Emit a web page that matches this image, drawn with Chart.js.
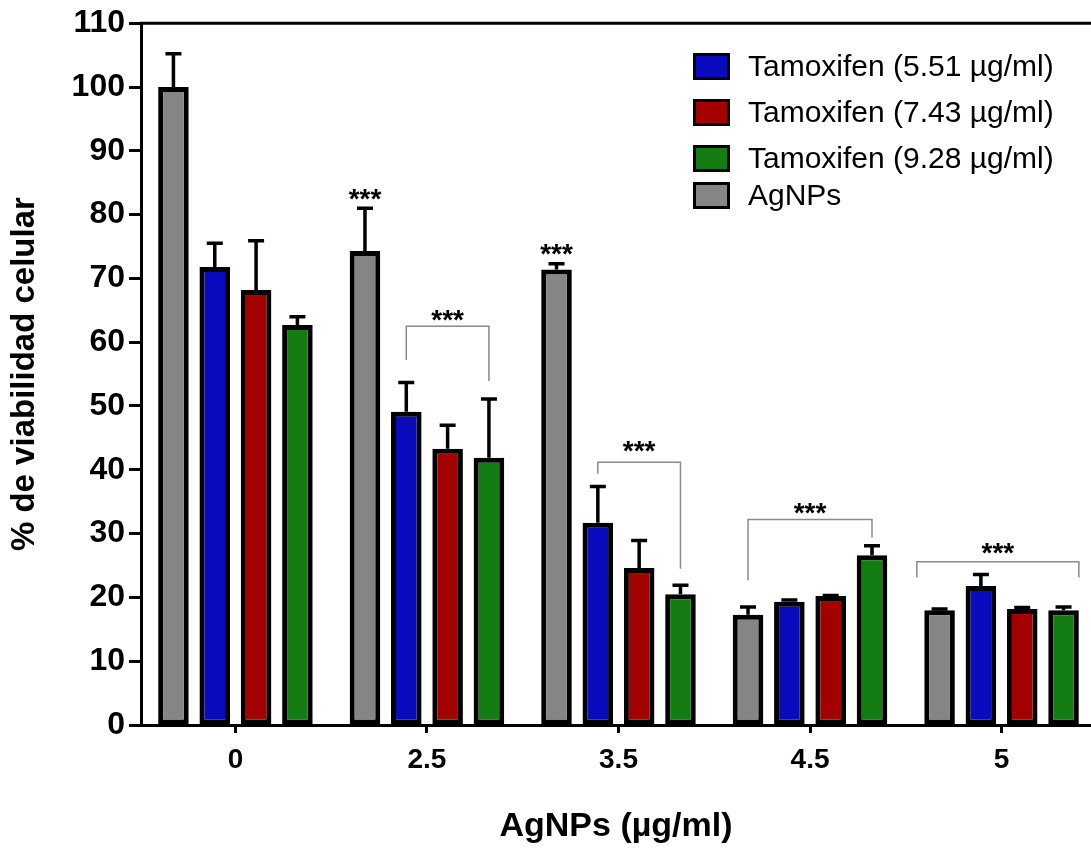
<!DOCTYPE html>
<html>
<head>
<meta charset="utf-8">
<script src="https://cdn.jsdelivr.net/npm/chart.js@4.4.1/dist/chart.umd.min.js"></script>
<style>
  body { margin:0; background:#fff; }
  #wrap { position:relative; width:1091px; height:848px; overflow:hidden; }
  #legend { position:absolute; left:693px; top:53px; font-family:"Liberation Sans", Arial, sans-serif; font-size:30px; color:#000; }
  .item { position:absolute; left:0; white-space:nowrap; }
  .box { position:absolute; left:0; top:0; width:37px; height:27px; box-sizing:border-box; border:3px solid #000; }
  .lbl { position:absolute; left:55px; top:-4px; line-height:34px; }
</style>
</head>
<body>
<div id="wrap">
  <canvas id="viab" width="1091" height="848"></canvas>
  <div id="legend"></div>
</div>
<script>
// concentraciones AgNPs (µg/ml)
const doses = ['0', '2.5', '3.5', '4.5', '5'];

// % viabilidad y error (barra superior) por serie
const agnps     = [100, 74.3, 71.4, 17.3, 18.0];
const agnpsErr  = [5.2, 6.7, 0.9, 1.2, 0.2];
const tam551    = [71.8, 49.1, 31.7, 19.3, 21.8];
const tam551Err = [3.7, 4.6, 5.7, 0.3, 1.8];
const tam743    = [68.2, 43.3, 24.6, 20.2, 18.2];
const tam743Err = [7.7, 3.7, 4.3, 0.1, 0.2];
const tam928    = [62.7, 41.9, 20.5, 26.6, 18.0];
const tam928Err = [1.3, 9.2, 1.4, 1.5, 0.5];

const seriesNames = ['AgNPs', 'Tamoxifen (5.51 µg/ml)', 'Tamoxifen (7.43 µg/ml)', 'Tamoxifen (9.28 µg/ml)'];
const seriesColors = ['#858585', '#0a0abf', '#a30000', '#137d13'];
const legendOrder = [1, 2, 3, 0];
const legendTops = [0, 46, 92, 129];

// significancia: grupo, desde/hasta (posicion de barra en el grupo), nivel, patas
const brackets = [
  { g: 1, from: 1, to: 3, level: 62.5, leftEnd: 57.2, rightEnd: 53.9, stars: 64.6 },
  { g: 2, from: 1, to: 3, level: 41.2, leftEnd: 39.4, rightEnd: 24.5, stars: 44.0 },
  { g: 3, from: 0, to: 3, level: 32.2, leftEnd: 22.7, rightEnd: 29.4, stars: 34.4 },
  { g: 4, from: -0.55, to: 3.37, level: 25.6, leftEnd: 23.1, rightEnd: 23.1, stars: 28.0 }
];
const singleStars = [ { g: 1, pos: 0, y: 83.6 }, { g: 2, pos: 0, y: 75.0 } ];

const values = [agnps, tam551, tam743, tam928];
const errors = [agnpsErr, tam551Err, tam743Err, tam928Err];

// ---------- leyenda ----------
const legend = document.getElementById('legend');
legendOrder.forEach((s, k) => {
  legend.innerHTML += `<div class="item" style="top:${legendTops[k]}px">
      <div class="box" style="background:${seriesColors[s]}"></div>
      <div class="lbl">${seriesNames[s]}</div></div>`;
});

function barX(chart, g, pos) {
  const x0 = chart.getDatasetMeta(0).data[g].x;
  const x1 = chart.getDatasetMeta(1).data[g].x;
  return x0 + pos * (x1 - x0);
}

const extras = {
  id: 'extras',
  afterDatasetsDraw(chart) {
    const ctx = chart.ctx, y = chart.scales.y, area = chart.chartArea;
    ctx.save();
    ctx.strokeStyle = '#000';
    ctx.lineWidth = 3;
    ctx.beginPath();
    ctx.moveTo(area.left - 1, area.top);
    ctx.lineTo(area.right, area.top);
    ctx.stroke();

    // barras de error
    ctx.lineWidth = 3.5;
    chart.data.datasets.forEach((ds, i) => {
      chart.getDatasetMeta(i).data.forEach((bar, g) => {
        const top = y.getPixelForValue(values[i][g] + errors[i][g]);
        ctx.beginPath();
        ctx.moveTo(bar.x, bar.y);
        ctx.lineTo(bar.x, top);
        ctx.moveTo(bar.x - 8, top);
        ctx.lineTo(bar.x + 8, top);
        ctx.stroke();
      });
    });

    ctx.font = 'bold 28px "Liberation Sans", Arial, sans-serif';
    ctx.textAlign = 'center';
    ctx.textBaseline = 'alphabetic';
    ctx.fillStyle = '#000';

    ctx.strokeStyle = '#8a8a8a';
    ctx.lineWidth = 1.5;
    brackets.forEach(b => {
      const xl = barX(chart, b.g, b.from), xr = barX(chart, b.g, b.to);
      const yl = y.getPixelForValue(b.level);
      ctx.beginPath();
      ctx.moveTo(xl, y.getPixelForValue(b.leftEnd));
      ctx.lineTo(xl, yl);
      ctx.lineTo(xr, yl);
      ctx.lineTo(xr, y.getPixelForValue(b.rightEnd));
      ctx.stroke();
      ctx.fillText('***', (xl + xr) / 2, y.getPixelForValue(b.stars) + 16);
    });
    singleStars.forEach(s => {
      ctx.fillText('***', barX(chart, s.g, s.pos), y.getPixelForValue(s.y) + 16);
    });
    ctx.restore();
  }
};

new Chart(document.getElementById('viab'), {
  type: 'bar',
  data: {
    datasets: values.map((vals, i) => ({
      label: seriesNames[i],
      data: vals.map((v, g) => ({ x: g, y: v })),
      backgroundColor: seriesColors[i],
      borderColor: '#000',
      borderWidth: 5,
      borderSkipped: false,
      categoryPercentage: 0.863,
      barPercentage: 0.74
    }))
  },
  options: {
    responsive: false,
    animation: false,
    devicePixelRatio: 1,
    layout: { padding: { top: 21, right: 0, left: 0, bottom: 0 } },
    plugins: { legend: { display: false }, tooltip: { enabled: false } },
    scales: {
      x: {
        type: 'linear',
        min: -0.493,
        max: 4.467,
        offset: false,
        afterFit: s => { s.height = 123; },
        afterBuildTicks: s => { s.ticks = doses.map((_, i) => ({ value: i })); },
        grid: { drawOnChartArea: false, offset: false, tickLength: 8, tickWidth: 3, tickColor: '#000' },
        border: { color: '#000', width: 3 },
        ticks: {
          padding: 10,
          color: '#000',
          font: { family: '"Liberation Sans", Arial, sans-serif', size: 28, weight: 'bold' },
          callback: v => doses[v]
        },
        title: {
          display: true,
          text: 'AgNPs (µg/ml)',
          color: '#000',
          padding: { top: 0, bottom: 1 },
          font: { family: '"Liberation Sans", Arial, sans-serif', size: 34, weight: 'bold' }
        }
      },
      y: {
        min: 0,
        max: 110,
        afterFit: s => { s.width = 141; },
        grid: { drawOnChartArea: false, tickLength: 12, tickWidth: 3, tickColor: '#000' },
        border: { color: '#000', width: 3 },
        ticks: {
          stepSize: 10,
          padding: 4,
          color: '#000',
          font: { family: '"Liberation Sans", Arial, sans-serif', size: 32, weight: 'bold' }
        },
        title: {
          display: true,
          text: '% de viabilidad celular',
          color: '#000',
          padding: { top: 5, bottom: 0 },
          font: { family: '"Liberation Sans", Arial, sans-serif', size: 33, weight: 'bold' }
        }
      }
    }
  },
  plugins: [extras]
});
</script>
</body>
</html>
